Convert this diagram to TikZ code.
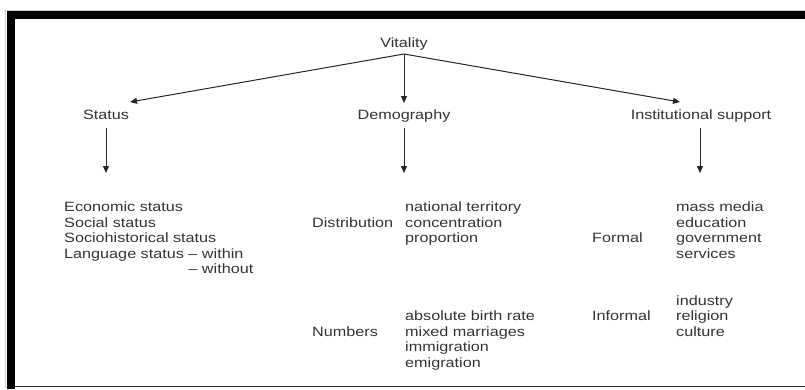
\documentclass[tikz,border=0pt]{standalone}
\usepackage{fontspec}
\setmainfont{Liberation Sans}[FakeStretch=1.2]
\usetikzlibrary{arrows.meta}
\begin{document}
\begin{tikzpicture}[x=1pt,y=-1pt,
  txt/.style={inner sep=0pt,text=black!80,font=\fontsize{13.5}{15.5}\selectfont},
  lst/.style={txt,anchor=base west},
  hd/.style={txt,anchor=base},
  arr/.style={draw=black!85,line width=1pt,-{Triangle[length=7pt,width=6pt]}}]
\useasboundingbox (0,0) rectangle (805,389);
% frame
\draw[black!20,line width=0.8pt] (5.5,389) -- (5.5,10) -- (805,10);
\fill[black] (7,11) rectangle (805,19);
\fill[black] (7,11) rectangle (15,389);
\draw[black!85,line width=1.5pt] (15,386.5) -- (805,386.5);
% headings
\node[hd] (vit) at (404,47.5) {Vitality};
\node[hd] (sta) at (106,119.5) {Status};
\node[hd] (dem) at (404,119.5) {Demography};
\node[hd] (ins) at (701,119.5) {Institutional support};
% connector ends
\coordinate (v0) at (404,54);
\coordinate (vS) at (130,102);
\coordinate (vD) at (404,103);
\coordinate (vI) at (680,102);
\coordinate (s0) at (106,128);
\coordinate (s1) at (106,173);
\coordinate (d0) at (404,128);
\coordinate (d1) at (404,173);
\coordinate (i0) at (700,128);
\coordinate (i1) at (700,173);
\draw[arr] (v0) -- (vS);
\draw[arr] (v0) -- (vD);
\draw[arr] (v0) -- (vI);
\draw[arr] (s0) -- (s1);
\draw[arr] (d0) -- (d1);
\draw[arr] (i0) -- (i1);
% status list
\node[lst] (slist) at (64,211.5) {\begin{tabular}[t]{@{}l@{}}Economic status\\Social status\\Sociohistorical status\\Language status -- within\\\hphantom{Language status }-- without\end{tabular}};
% demography
\node[lst] (dist) at (312,227) {Distribution};
\node[lst] (distl) at (405,211.5) {\begin{tabular}[t]{@{}l@{}}national territory\\concentration\\proportion\end{tabular}};
\node[lst] (num) at (312,336) {Numbers};
\node[lst] (numl) at (405,320.5) {\begin{tabular}[t]{@{}l@{}}absolute birth rate\\mixed marriages\\immigration\\emigration\end{tabular}};
% institutional
\node[lst] (form) at (592,242.5) {Formal};
\node[lst] (forml) at (676,211.5) {\begin{tabular}[t]{@{}l@{}}mass media\\education\\government\\services\end{tabular}};
\node[lst] (inf) at (592,320.5) {Informal};
\node[lst] (infl) at (676,305) {\begin{tabular}[t]{@{}l@{}}industry\\religion\\culture\end{tabular}};
\end{tikzpicture}
\end{document}
